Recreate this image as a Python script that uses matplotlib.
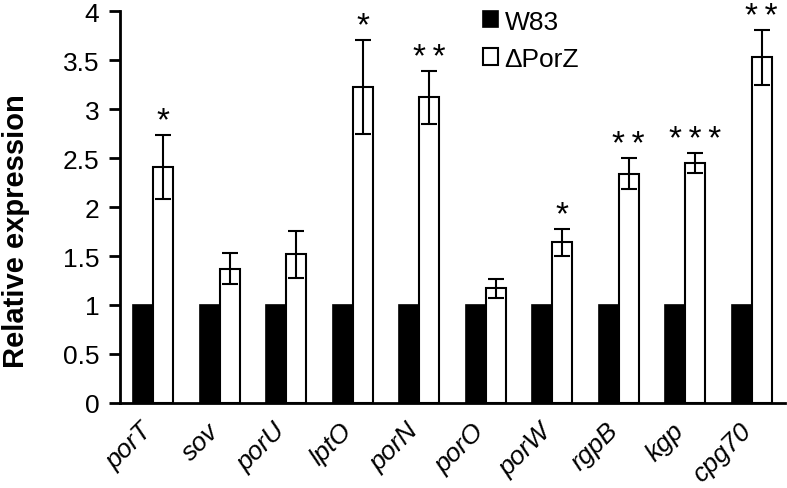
import matplotlib
matplotlib.use('Agg')
import matplotlib.pyplot as plt
import numpy as np

# 基因名称与数据
genes = ['porT', 'sov', 'porU', 'lptO', 'porN', 'porO', 'porW', 'rgpB', 'kgp', 'cpg70']
w83 = [1, 1, 1, 1, 1, 1, 1, 1, 1, 1]
porz = [2.41, 1.37, 1.52, 3.23, 3.12, 1.17, 1.64, 2.34, 2.45, 3.53]
porz_err = [0.33, 0.16, 0.24, 0.48, 0.27, 0.10, 0.14, 0.16, 0.10, 0.28]
stars = ['*', '', '', '*', '**', '', '*', '**', '***', '**']

plt.rcParams['font.family'] = ['Liberation Sans', 'DejaVu Sans']

fig = plt.figure(figsize=(7.87, 4.89), dpi=100)
ax = fig.add_axes([0.1525, 0.174, 0.845, 0.801])

x = np.arange(len(genes))
w = 0.3
ax.bar(x - w / 2, w83, w, color='black', edgecolor='black', linewidth=1.2, label='W83')
ax.bar(x + w / 2, porz, w, color='white', edgecolor='black', linewidth=1.5, label='ΔPorZ',
       yerr=porz_err, capsize=6, error_kw=dict(elinewidth=1.5, capthick=1.5, ecolor='black'))

# 显著性星号（星号之间用细空格隔开）
for i, s in enumerate(stars):
    if s:
        ax.text(x[i] + w / 2, porz[i] + porz_err[i] - 0.02, '\u2009'.join(s),
                ha='center', va='bottom', fontsize=24)

ax.set_xlim(-0.5, len(genes) - 0.5)
ax.set_ylim(0, 4)
ax.set_yticks(np.arange(0, 4.01, 0.5))
ax.set_yticklabels(['0', '0.5', '1', '1.5', '2', '2.5', '3', '3.5', '4'], fontsize=19)
ax.set_xticks(x - 0.2)
ax.set_xticklabels(genes, rotation=45, ha='right', rotation_mode='anchor', style='italic', fontsize=19)
ax.tick_params(axis='x', length=0, pad=11)
ax.tick_params(axis='y', length=8, width=2, direction='out', pad=7)
ax.set_ylabel('Relative expression', fontsize=21, fontweight='bold')
ax.yaxis.set_label_coords(-0.136, 0.441)

ax.spines['top'].set_visible(False)
ax.spines['right'].set_visible(False)
ax.spines['left'].set_linewidth(2)
ax.spines['bottom'].set_linewidth(2)

ax.legend(loc='upper left', bbox_to_anchor=(0.600, 1.0), bbox_transform=fig.transFigure,
          frameon=False, fontsize=19, handlelength=0.57, handleheight=0.57, handletextpad=0.25,
          labelspacing=0.5, borderaxespad=0)

fig.savefig('out.png', dpi=100)
